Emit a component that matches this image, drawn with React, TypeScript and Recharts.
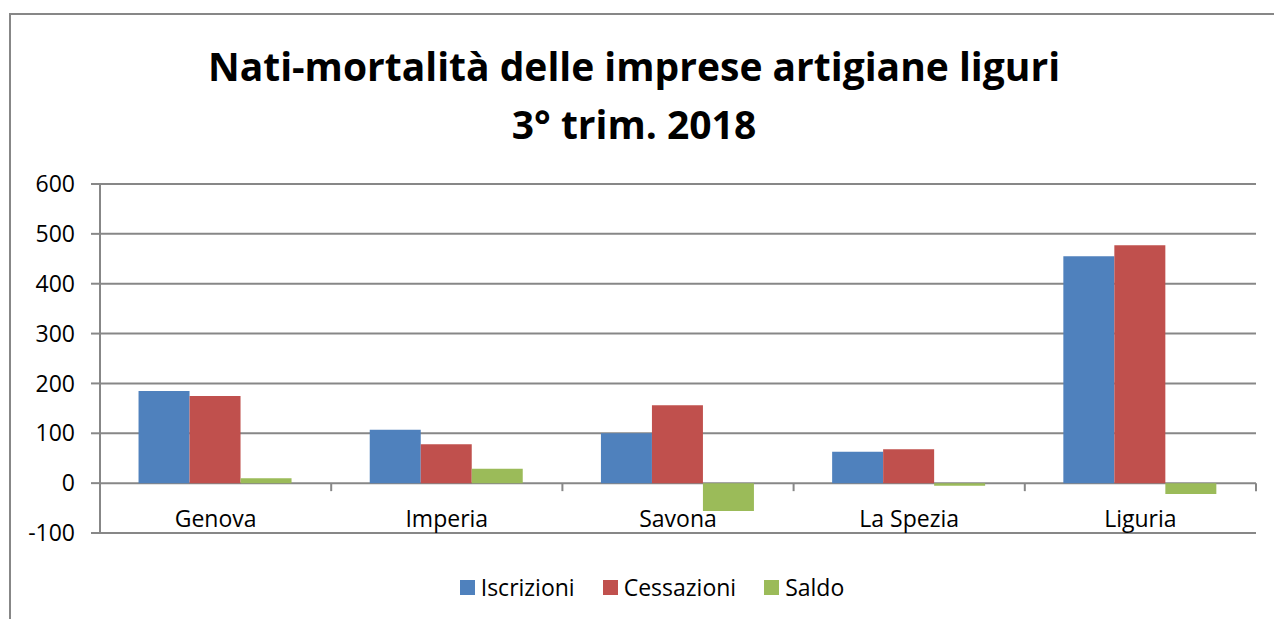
import { BarChart, Bar, XAxis, YAxis, CartesianGrid } from 'recharts';

const categories = ['Genova', 'Imperia', 'Savona', 'La Spezia', 'Liguria'];
const iscrizioni = [185, 107, 100, 63, 455];
const cessazioni = [175, 78, 156, 68, 477];
const saldo = [10, 29, -56, -5, -22];
const yTicks = [-100, 0, 100, 200, 300, 400, 500, 600];

const seriesInfo = [
  { key: 'iscrizioni', name: 'Iscrizioni', color: '#4F81BD' },
  { key: 'cessazioni', name: 'Cessazioni', color: '#C0504D' },
  { key: 'saldo', name: 'Saldo', color: '#9BBB59' },
];

const data = categories.map((c, i) => ({
  name: c,
  iscrizioni: iscrizioni[i],
  cessazioni: cessazioni[i],
  saldo: saldo[i],
}));

const FONT = '"Open Sans", sans-serif';
const GRID = '#878787';
const W = 1274;
const H = 619;
const margin = { top: 184, right: 18, left: 0, bottom: 56 };
const Y_AXIS_W = 100;
const X_AXIS_H = 30;
const yMin = yTicks[0];
const yMax = yTicks[yTicks.length - 1];
const plotW = W - margin.left - margin.right - Y_AXIS_W;
const plotH = H - margin.top - margin.bottom - X_AXIS_H;
const band = plotW / categories.length;
const zeroY = margin.top + (plotH * yMax) / (yMax - yMin);

// category label sits below the zero line, with a small tick at the band edge
function CategoryTick(props: any) {
  const { x, payload } = props;
  return (
    <g>
      <line x1={x + band / 2} x2={x + band / 2} y1={zeroY} y2={zeroY + 8} stroke={GRID} strokeWidth={2} />
      <text
        x={x}
        y={zeroY + 35}
        textAnchor="middle"
        dominantBaseline="central"
        fontFamily={FONT}
        fontSize={23}
        fill="#000"
      >
        {payload.value}
      </text>
    </g>
  );
}

export default function App() {
  return (
    <div style={{ position: 'absolute', left: 0, top: 0, width: W, height: H, overflow: 'hidden', background: '#fff' }}>
      <div
        style={{
          position: 'absolute',
          left: 9,
          top: 13,
          width: 1400,
          height: 800,
          borderTop: `2px solid ${GRID}`,
          borderLeft: `2px solid ${GRID}`,
        }}
      />
      <div
        style={{
          position: 'absolute',
          left: 0,
          top: 37,
          width: 1268,
          textAlign: 'center',
          fontFamily: FONT,
          fontWeight: 700,
          fontSize: 39,
          lineHeight: '58px',
          color: '#000',
        }}
      >
        Nati-mortalità delle imprese artigiane liguri
        <br />
        3° trim. 2018
      </div>
      <div style={{ position: 'absolute', left: 0, top: 0 }}>
        <BarChart width={W} height={H} data={data} margin={margin} barCategoryGap="16.67%" barGap={0}>
          <CartesianGrid vertical={false} stroke={GRID} strokeWidth={2} />
          <XAxis
            dataKey="name"
            height={X_AXIS_H}
            axisLine={false}
            tickLine={false}
            tickSize={0}
            tick={<CategoryTick />}
            interval={0}
          />
          <YAxis
            width={Y_AXIS_W}
            domain={[yMin, yMax]}
            ticks={yTicks}
            interval={0}
            axisLine={{ stroke: GRID, strokeWidth: 2 }}
            tickLine={{ stroke: GRID, strokeWidth: 2 }}
            tickSize={9}
            tickMargin={16}
            tick={{ fill: '#000', fontSize: 23, fontFamily: FONT }}
          />
          {seriesInfo.map((s) => (
            <Bar key={s.key} dataKey={s.key} name={s.name} fill={s.color} isAnimationActive={false} />
          ))}
        </BarChart>
      </div>
      <div
        style={{
          position: 'absolute',
          left: 30,
          top: 572,
          width: 1244,
          display: 'flex',
          justifyContent: 'center',
          alignItems: 'center',
          fontFamily: FONT,
          fontSize: 23,
          lineHeight: '30px',
          color: '#000',
        }}
      >
        {seriesInfo.map((s, i) => (
          <div key={s.key} style={{ display: 'flex', alignItems: 'center', marginLeft: i === 0 ? 0 : 28 }}>
            <span style={{ width: 15, height: 15, background: s.color, marginRight: 6, display: 'inline-block' }} />
            <span>{s.name}</span>
          </div>
        ))}
      </div>
    </div>
  );
}
